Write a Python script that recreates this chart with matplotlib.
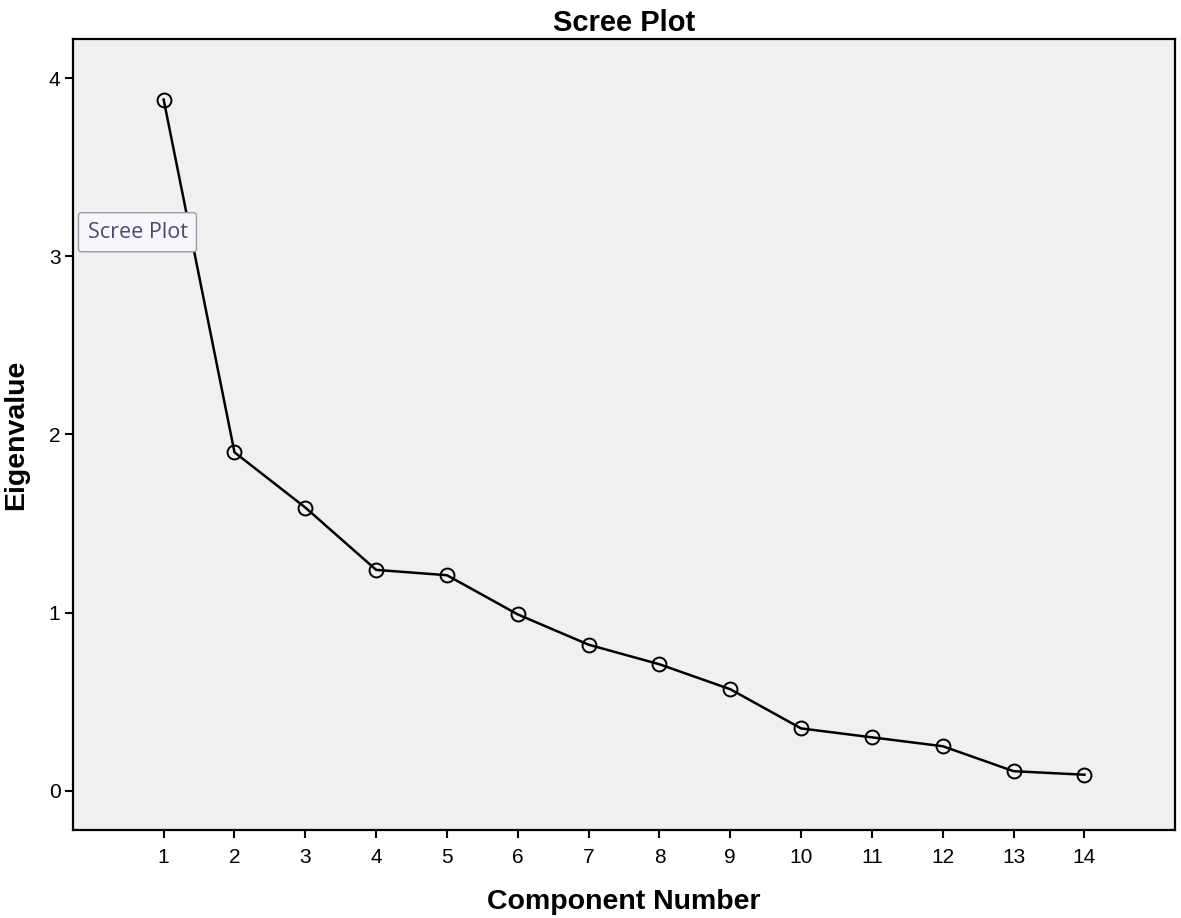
import matplotlib
matplotlib.use("Agg")
import matplotlib.pyplot as plt

# scree plot data
components = list(range(1, 15))
eigenvalues = [3.88, 1.90, 1.59, 1.24, 1.21, 0.99, 0.82, 0.71, 0.57, 0.35, 0.30, 0.25, 0.11, 0.09]
y_ticks = [0, 1, 2, 3, 4]

plt.rcParams['font.family'] = ['Liberation Sans', 'DejaVu Sans']

fig = plt.figure(figsize=(11.81, 9.18), dpi=100)
ax = fig.add_axes([0.0618, 0.0959, 0.9332, 0.8616])
ax.set_facecolor("#f0f0f0")

ax.plot(components, eigenvalues, color="black", linewidth=1.8,
        marker="o", markersize=10, markerfacecolor="none",
        markeredgecolor="black", markeredgewidth=1.4)

ax.set_xlim(-0.28, 15.28)
ax.set_ylim(-0.22, 4.22)
ax.set_xticks(components)
ax.set_yticks(y_ticks)
ax.tick_params(axis="both", direction="out", length=6, width=1.5, labelsize=15)
ax.tick_params(axis="x", pad=7)
ax.tick_params(axis="y", pad=3)

for s in ax.spines.values():
    s.set_linewidth(1.6)

ax.set_title("Scree Plot", fontsize=21, fontweight="bold", pad=6)
ax.set_xlabel("Component Number", fontsize=20.5, fontweight="bold", labelpad=16)
ax.set_ylabel("Eigenvalue", fontsize=20.5, fontweight="bold", labelpad=14)

# tooltip left over from the screenshot
fig.text(0.1164, 0.747, "Scree Plot", fontsize=15.5, color="#4a4a6e",
         family=["Open Sans", "DejaVu Sans"], ha="center", va="center",
         bbox=dict(boxstyle="round,pad=0.42,rounding_size=0.15",
                   facecolor="#f7f7fb", edgecolor="#9a9aa8", linewidth=1.0))

fig.savefig("out.png", dpi=100)
